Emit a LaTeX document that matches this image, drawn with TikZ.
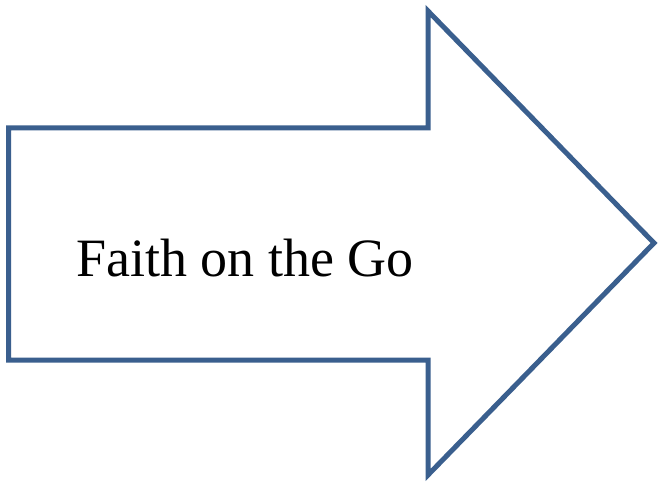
\documentclass[tikz,border=0pt]{standalone}
\usepackage{fontspec}
\setmainfont{Liberation Serif}
\definecolor{outlineblue}{HTML}{3A5F8E}

\begin{document}
\begin{tikzpicture}[x=1pt, y=1pt,
    arrowshape/.style={draw=outlineblue, line width=5pt, fill=white, line join=miter},
    label/.style={font=\fontsize{54}{60}\selectfont, anchor=base, inner sep=0pt}]
    \useasboundingbox (0,0) rectangle (658,482);
    \draw[arrowshape] (8.5,354) -- (428,354) -- (428,471) -- (654,239)
        -- (428,7) -- (428,122) -- (8.5,122) -- cycle;
    \node[label] (title) at (245,205) {Faith on the Go};
\end{tikzpicture}
\end{document}
